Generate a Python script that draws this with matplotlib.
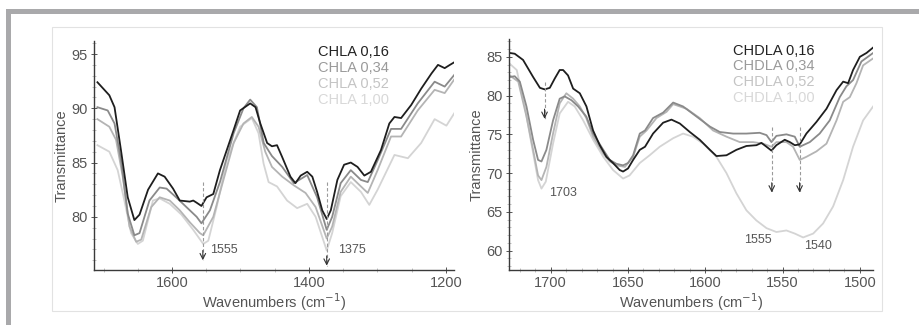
import numpy as np
import matplotlib
matplotlib.use("Agg")
from matplotlib import pyplot as plt
from matplotlib.patches import Rectangle
from matplotlib.ticker import MultipleLocator

plt.rcParams['font.family'] = ['Liberation Sans', 'DejaVu Sans']

# ---- left panel: CHLA ----
chla_labels = ["CHLA 0,16", "CHLA 0,34", "CHLA 0,52", "CHLA 1,00"]
chla_016_x = [1709, 1691.6, 1684, 1674.5, 1664.7, 1655, 1647.5, 1635, 1620.6, 1610.8, 1598.5, 1588.7,
              1574, 1569, 1564, 1557, 1549.5, 1539.7, 1530, 1510, 1500.5, 1485.8, 1478, 1471, 1461,
              1454, 1446.6, 1439, 1427, 1419.7, 1412, 1402.5, 1395, 1388, 1380.5, 1374, 1368, 1358.4,
              1348.6, 1338.8, 1329, 1319, 1309.4, 1294.7, 1282.5, 1275, 1265.3, 1250.6, 1236, 1221,
              1211.4, 1201.6, 1194, 1186]
chla_016_y = [92.4, 91.2, 90.1, 86.1, 81.8, 79.7, 80.2, 82.5, 84.0, 83.7, 82.6, 81.5,
              81.4, 81.5, 81.3, 81.0, 81.8, 82.1, 84.3, 88.0, 89.8, 90.45, 90.1, 88.6, 86.8,
              86.5, 86.6, 85.5, 83.7, 83.1, 83.8, 84.15, 83.7, 82.3, 80.6, 79.8, 80.6, 83.4,
              84.8, 85.0, 84.6, 83.8, 84.15, 86.15, 88.6, 89.2, 89.1, 90.3, 91.8, 93.2,
              94.0, 93.7, 94.0, 94.3]
chla_034_x = [1709, 1694, 1684, 1674.5, 1664.7, 1655, 1647.5, 1633, 1618, 1608, 1594, 1579, 1564,
              1557, 1544.6, 1530, 1510, 1495.6, 1485.8, 1476, 1466, 1454, 1439, 1422, 1402.5, 1388,
              1374, 1366, 1353.6, 1338.8, 1324, 1314, 1299.6, 1280, 1265.3, 1241, 1216.3, 1201.6, 1186]
chla_034_y = [90.1, 89.8, 88.6, 85.2, 80.3, 78.3, 78.5, 81.5, 82.7, 82.6, 81.8, 80.9, 80.0,
              79.4, 80.6, 83.2, 87.7, 90.0, 90.8, 90.1, 86.8, 85.6, 84.6, 83.1, 83.85, 81.8,
              78.8, 80.0, 83.1, 84.3, 83.4, 83.2, 85.2, 88.1, 88.1, 90.45, 92.45, 92.0, 93.2]
chla_052_x = [1709, 1691.6, 1681.8, 1672, 1662.2, 1652.4, 1645, 1630.3, 1618, 1603.3, 1588.7, 1574,
              1559.3, 1554.4, 1539.7, 1527.5, 1510, 1495.6, 1483.4, 1473.6, 1463.8, 1454, 1439,
              1422, 1404.9, 1390.2, 1374, 1366, 1353.6, 1338.8, 1324, 1314, 1299.6, 1280, 1265.3,
              1241, 1216.3, 1201.6, 1186]
chla_052_y = [89.0, 88.3, 87.1, 83.7, 79.1, 77.7, 77.9, 80.9, 81.8, 81.5, 80.6, 79.5,
              78.5, 78.3, 80.0, 82.8, 86.8, 88.6, 89.2, 88.3, 86.0, 84.6, 83.7,
              82.9, 82.2, 80.9, 78.0, 79.1, 82.3, 83.7, 82.8, 82.2, 84.3, 87.4, 87.4,
              89.8, 91.7, 91.4, 92.8]
chla_100_x = [1709, 1691.6, 1679.4, 1669.6, 1659.8, 1650, 1642.6, 1627.9, 1618, 1603.3, 1586.2, 1569,
              1554.4, 1547, 1534.8, 1520.1, 1500.5, 1483.4, 1473.6, 1466.2, 1458.9, 1446.6, 1431.9,
              1417.2, 1402.5, 1390.2, 1374, 1366, 1353.6, 1338.8, 1324, 1311.8, 1299.6, 1275,
              1255.4, 1236, 1216.3, 1199.1, 1186]
chla_100_y = [86.6, 86.0, 84.3, 81.5, 78.5, 77.5, 77.8, 81.5, 81.7, 81.2, 80.2, 78.8,
              77.5, 77.8, 80.9, 85.2, 88.3, 89.1, 87.7, 84.9, 83.2, 82.8, 81.5,
              80.8, 81.2, 80.0, 76.9, 78.5, 81.9, 83.2, 82.3, 81.1, 82.5, 85.7,
              85.4, 86.8, 89.0, 88.4, 89.7]

# ---- right panel: CHDLA ----
chdla_labels = ["CHDLA 0,16", "CHDLA 0,34", "CHDLA 0,52", "CHDLA 1,00"]
chdla_016_x = [1726.5, 1723.3, 1717.9, 1711.4, 1707, 1703.9, 1700.6, 1697.4, 1694.2, 1692, 1688.8,
               1685.5, 1681.2, 1676.9, 1672.6, 1668.3, 1664, 1659.7, 1655.4, 1653.2, 1650, 1646.7,
               1642.4, 1639, 1633.8, 1627.3, 1621.9, 1616.5, 1610, 1603.6, 1597, 1592.8, 1586.3,
               1579.9, 1573.4, 1566.9, 1563.7, 1560.4, 1557.2, 1554, 1548.6, 1545.3, 1542.1,
               1538.9, 1534.6, 1528.1, 1521.6, 1515.1, 1510.8, 1507.6, 1504.4, 1500, 1495.7, 1491.4]
chdla_016_y = [85.5, 85.4, 84.6, 82.4, 81.0, 80.8, 81.0, 82.2, 83.3, 83.3, 82.6,
               80.9, 80.3, 78.6, 75.5, 73.6, 72.1, 71.3, 70.4, 70.2, 70.6, 71.7,
               73.0, 73.4, 75.1, 76.5, 76.9, 76.4, 75.3, 74.3, 73.0, 72.2, 72.3,
               73.0, 73.5, 73.6, 73.9, 73.4, 72.9, 73.6, 74.3, 74.0, 73.6,
               73.7, 75.1, 76.6, 78.3, 80.7, 81.8, 81.6, 83.3, 85.0, 85.5, 86.2]
chdla_034_x = [1726.5, 1723.3, 1720, 1715.7, 1711.4, 1708.2, 1706, 1702.8, 1698.5, 1694.2, 1691,
               1686.6, 1682.3, 1677, 1672.6, 1666, 1661.8, 1657.5, 1653.2, 1650, 1646.7, 1642.4,
               1639, 1633.8, 1627.3, 1620.8, 1614.4, 1605.7, 1597, 1590.6, 1582, 1573.4, 1564.8,
               1560.4, 1557.2, 1554, 1547.5, 1542.1, 1538.9, 1532.4, 1526, 1519.5, 1513, 1508.7,
               1504.4, 1499, 1491.4]
chdla_034_y = [82.4, 82.5, 81.8, 78.6, 74.3, 71.7, 71.5, 73.0, 76.8, 79.6, 79.9,
               79.4, 78.6, 77.3, 75.1, 73.0, 71.7, 71.2, 71.0, 71.3, 72.3, 75.1,
               75.5, 77.1, 77.8, 79.1, 78.6, 77.3, 76.0, 75.3, 75.1, 75.1, 75.2,
               74.9, 74.0, 74.8, 75.0, 74.7, 73.4, 74.0, 75.1, 76.8, 79.8, 81.2,
               82.0, 84.4, 85.5]
chdla_052_x = [1726.5, 1721, 1715.7, 1711.4, 1708.2, 1706, 1702.8, 1698.5, 1694.2, 1689.9, 1685.5,
               1681.2, 1677, 1672.6, 1666, 1661.8, 1657.5, 1652, 1646.7, 1642.4, 1638, 1631.6,
               1625.1, 1620.8, 1612.2, 1603.6, 1595, 1586.3, 1577.7, 1569.1, 1562.6, 1557.2,
               1554, 1547.5, 1543.2, 1538.9, 1534.6, 1528.1, 1521.6, 1515.1, 1510.8, 1506.5,
               1502.2, 1497.9, 1491.4]
chdla_052_y = [82.6, 81.8, 77.3, 73.0, 69.7, 69.1, 70.8, 75.1, 79.0, 80.3, 79.6,
               78.6, 77.1, 74.7, 72.5, 71.5, 71.0, 70.8, 72.1, 74.7, 75.5, 77.1,
               77.9, 78.9, 78.3, 77.1, 75.5, 74.7, 74.0, 74.0, 73.8, 73.4,
               74.0, 74.0, 73.4, 71.7, 72.1, 72.8, 73.8, 76.8, 79.2, 79.8,
               81.6, 83.9, 84.8]
chdla_100_x = [1726.5, 1722, 1716.8, 1712.5, 1708.2, 1706, 1703.2, 1698.5, 1694.2, 1688.8, 1684.5,
               1679, 1672.6, 1666, 1659.7, 1653.2, 1649, 1642.4, 1636, 1629.5, 1620.8, 1614.4,
               1608, 1601.4, 1592.8, 1586.3, 1579.9, 1573.4, 1567, 1560.4, 1554, 1547.5, 1542.1,
               1536.7, 1530.2, 1523.8, 1517.3, 1510.8, 1504.4, 1497.9, 1491.4]
chdla_100_y = [84.1, 83.3, 78.6, 73.8, 69.1, 68.0, 68.9, 73.8, 77.7, 79.2, 78.6,
               76.8, 74.3, 72.1, 70.4, 69.3, 69.7, 71.3, 72.3, 73.4, 74.5, 75.1,
               74.7, 73.8, 72.1, 70.0, 67.4, 65.2, 63.9, 62.9, 62.4, 62.6, 62.2,
               61.7, 62.2, 63.5, 65.7, 69.1, 73.4, 76.8, 78.6]

line_colors = ["#1e1e1e", "#8a8a8a", "#b4b4b4", "#d4d4d4"]
text_colors = ["#222222", "#9a9a9a", "#c4c4c4", "#d8d8d8"]

fig = plt.figure(figsize=(9.2, 3.25), dpi=100)

# grey frame and panel box
fig.patches.append(Rectangle((6 / 920, 1 - 14 / 325), 914 / 920, 5 / 325, transform=fig.transFigure,
                             facecolor="#a9a9ab", edgecolor="none"))
fig.patches.append(Rectangle((6 / 920, 0), 5 / 920, 1 - 9 / 325, transform=fig.transFigure,
                             facecolor="#a9a9ab", edgecolor="none"))
fig.patches.append(Rectangle((52 / 920, 1 - 311 / 325), 830 / 920, 284 / 325, transform=fig.transFigure,
                             facecolor="none", edgecolor="#e2e2e2", lw=0.8))

ax1 = fig.add_axes([94 / 920, 1 - 270 / 325, 360 / 920, 229 / 325])
ax2 = fig.add_axes([509 / 920, 1 - 270 / 325, 364 / 920, 231 / 325])


def style(ax, xlim, ylim, xmaj, xmin, ymaj, ymin):
    ax.set_xlim(*xlim)
    ax.set_ylim(*ylim)
    for s in ["top", "right"]:
        ax.spines[s].set_visible(False)
    for s in ["left", "bottom"]:
        ax.spines[s].set_color("#3a3a3a")
        ax.spines[s].set_linewidth(1.0)
    ax.xaxis.set_major_locator(MultipleLocator(xmaj))
    ax.xaxis.set_minor_locator(MultipleLocator(xmin))
    ax.yaxis.set_major_locator(MultipleLocator(ymaj))
    ax.yaxis.set_minor_locator(MultipleLocator(ymin))
    ax.tick_params(which="major", direction="inout", length=5, width=0.7, color="#555555",
                   labelsize=10.5, labelcolor="#555555", pad=2)
    ax.tick_params(which="minor", direction="inout", length=3, width=0.5, color="#aaaaaa")
    ax.set_ylabel("Transmittance", fontsize=10.5, color="#555555", labelpad=2)
    ax.set_xlabel("Wavenumbers (cm$^{-1}$)", fontsize=10.5, color="#555555", labelpad=1)


# left
style(ax1, (1714, 1188), (75.1, 96.2), 200, 50, 5, 1)
for xs, ys, c in zip([chla_016_x, chla_034_x, chla_052_x, chla_100_x][::-1],
                     [chla_016_y, chla_034_y, chla_052_y, chla_100_y][::-1], line_colors[::-1]):
    ax1.plot(xs, ys, color=c, lw=1.3, solid_joinstyle="round")
for i, (lab, c) in enumerate(zip(chla_labels, text_colors)):
    ax1.text(0.623, 0.95 - i * 0.069, lab, transform=ax1.transAxes, color=c, fontsize=10.5, va="center")

# right
style(ax2, (1727, 1491.5), (57.5, 87.3), 50, 10, 5, 1)
for xs, ys, c in zip([chdla_016_x, chdla_034_x, chdla_052_x, chdla_100_x][::-1],
                     [chdla_016_y, chdla_034_y, chdla_052_y, chdla_100_y][::-1], line_colors[::-1]):
    ax2.plot(xs, ys, color=c, lw=1.3, solid_joinstyle="round")
for i, (lab, c) in enumerate(zip(chdla_labels, text_colors)):
    ax2.text(0.615, 0.95 - i * 0.068, lab, transform=ax2.transAxes, color=c, fontsize=10.5, va="center")

# peak markers
left_marks = [(1555, 83.2, 76.0, "1555", 1545, 76.9), (1374, 83.2, 75.5, "1375", 1357, 76.9)]
right_marks = [(1704, 81.8, 77.0, "1703", 1701, 67.4), (1557, 76.0, 67.5, "1555", 1575, 61.4),
               (1539, 76.0, 67.5, "1540", 1536, 60.6)]
for ax, marks in [(ax1, left_marks), (ax2, right_marks)]:
    for x, y0, y1, lab, tx, ty in marks:
        ax.plot([x, x], [y0, y1], ls=(0, (3, 2)), color="#9a9a9a", lw=0.8)
        ax.annotate("", xy=(x, y1), xytext=(0, 7), textcoords="offset points",
                    arrowprops=dict(arrowstyle="->", color="#333333", lw=0.8, shrinkA=0, shrinkB=0))
        ax.text(tx, ty, lab, fontsize=9, color="#555555", va="center", ha="left")

fig.savefig("out.png", dpi=100)
